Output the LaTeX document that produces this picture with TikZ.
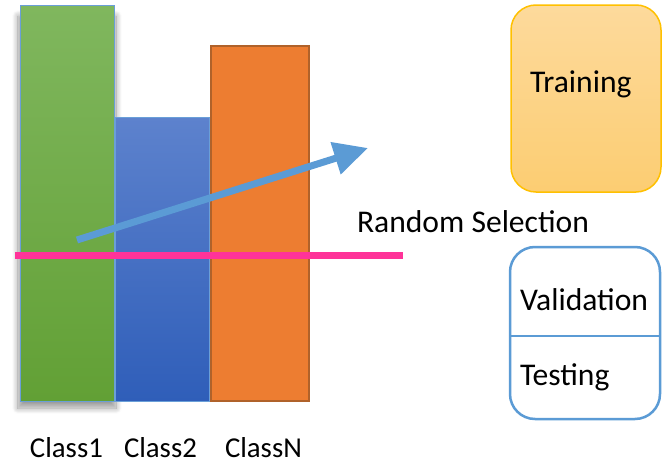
\documentclass[tikz,border=0pt]{standalone}
\usepackage{fontspec}
\setmainfont{Carlito}
\usetikzlibrary{arrows.meta,shadows.blur}

\definecolor{barGreenTop}{HTML}{80B75E}
\definecolor{barGreenBot}{HTML}{62A035}
\definecolor{barBlueTop}{HTML}{5D82CD}
\definecolor{barBlueBot}{HTML}{2F5EB9}
\definecolor{barEdge}{HTML}{6A9FD8}
\definecolor{orangeFill}{HTML}{ED7D31}
\definecolor{orangeEdge}{HTML}{B0622A}
\definecolor{cutPink}{HTML}{FF3399}
\definecolor{arrowBlue}{HTML}{5B9BD5}
\definecolor{trainTop}{HTML}{FDDA9C}
\definecolor{trainBot}{HTML}{FCCD72}
\definecolor{trainEdge}{HTML}{FFC000}

\tikzset{
  bar/.style={rectangle, anchor=north west, inner sep=0pt, outer sep=0pt,
    minimum width=94pt},
  lbl/.style={anchor=base west, inner sep=0pt, outer sep=0pt, text=black},
  setbox/.style={rectangle, rounded corners=25pt, inner sep=0pt, outer sep=0pt,
    minimum width=150pt},
  bigtext/.style={font=\fontsize{31.6}{36}\selectfont},
}

\begin{document}
\begin{tikzpicture}[x=1pt, y=-1pt]
\useasboundingbox (0,0) rectangle (665,463);

% soft shadow under the first bar
\path[blur shadow={shadow xshift=0pt, shadow yshift=0pt, shadow blur steps=14,
  shadow blur radius=6pt, shadow opacity=40}] (18,16) rectangle (116,408);

% class bars
\node[bar, minimum height=396pt, draw=barEdge, line width=1pt,
  top color=barGreenTop, bottom color=barGreenBot] (c1) at (20,5) {};
\node[bar, minimum height=284pt, draw=barEdge, line width=1pt,
  top color=barBlueTop, bottom color=barBlueBot] (c2) at (115,117) {};
\node[bar, minimum width=98pt, minimum height=355pt, draw=orangeEdge,
  line width=2pt, fill=orangeFill] (cn) at (211,46) {};

% selection cut line
\coordinate (cutL) at (15,255);
\coordinate (cutR) at (403,255);
\draw[cutPink, line width=7pt] (cutL) -- (cutR);

% random selection arrow
\coordinate (arrS) at (77,240);
\coordinate (arrE) at (368,148);
\draw[arrowBlue, line width=7pt,
  -{Triangle[length=34pt, width=32pt]}] (arrS) -- (arrE);

% class labels
\begin{scope}[font=\fontsize{28.8}{33}\selectfont]
\node[lbl] (l1) at (30,457) {Class1};
\node[lbl] (l2) at (124,457) {Class2};
\node[lbl] (ln) at (225,457) {ClassN};
\end{scope}

\node[lbl, bigtext] (rs) at (357,232) {Random Selection};

% training set
\node[setbox, minimum height=187pt, draw=trainEdge, line width=1.5pt,
  top color=trainTop, bottom color=trainBot] (train) at (586,98.5) {};
\node[lbl, bigtext] (trainT) at (530,92) {Training};

% validation / testing set
\node[setbox, minimum height=172pt, draw=arrowBlue, line width=2.5pt,
  fill=white] (vt) at (585,333) {};
\coordinate (divL) at (vt.west |- 0,336);
\coordinate (divR) at (vt.east |- 0,336);
\draw[arrowBlue, line width=2pt] (divL) -- (divR);
\node[lbl, bigtext] (valT) at (520,310) {Validation};
\node[lbl, bigtext] (testT) at (520,385) {Testing};
\end{tikzpicture}
\end{document}
